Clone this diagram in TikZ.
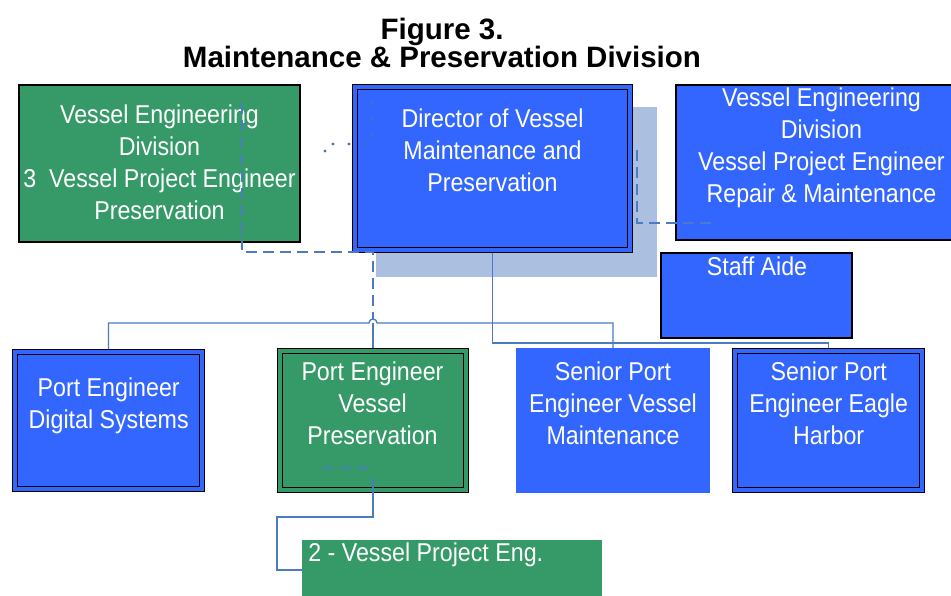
\documentclass[tikz,border=0pt]{standalone}
\usepackage{fontspec}
\setmainfont{Liberation Sans}
\newfontfamily\boxfont{Liberation Sans}[FakeStretch=0.9]
\usetikzlibrary{calc}
\definecolor{boxblue}{RGB}{51,102,255}
\definecolor{boxgreen}{RGB}{54,153,104}
\definecolor{shadowc}{RGB}{171,191,224}
\definecolor{connc}{RGB}{74,124,196}
\definecolor{dotc}{RGB}{80,112,170}
\tikzset{
  plainbox/.style={inner sep=0pt, outer sep=0pt, draw=black, line width=1.6pt},
  dblbox/.style={inner sep=0pt, outer sep=0pt, draw=black, line width=1.3pt, double distance=3.4pt},
  nobox/.style={inner sep=0pt, outer sep=0pt, draw=none},
  boxtext/.style={inner sep=0pt, outer sep=0pt, text=white, align=center, anchor=north,
    font=\boxfont\fontsize{25.8}{32}\selectfont},
  titletext/.style={inner sep=0pt, outer sep=0pt, text=black, align=center, anchor=north,
    font=\bfseries\fontsize{29.5}{28}\selectfont},
  conn/.style={draw=connc, line width=1.3pt},
  dashconn/.style={draw=connc, line width=1.3pt, dash pattern=on 11pt off 6pt},
}
\begin{document}
\begin{tikzpicture}[x=1pt,y=-1pt]
\clip (0,0) rectangle (951,596);
\fill[white] (0,0) rectangle (951,596);

% title
\node[titletext] (title) at (442,18.4) {Figure 3.\\Maintenance \& Preservation Division};

% coordinates for connectors
\coordinate (bus) at (0,323);
\coordinate (d1) at (242,103);
\coordinate (d2) at (373,252);
\coordinate (e1) at (637,150);
\coordinate (e2) at (717,223);
\coordinate (f0) at (323,468);
\coordinate (f1) at (373,478);
\coordinate (f2) at (373,468);
\coordinate (g) at (277,517);

% shadow of director box
\node[nobox, fill=shadowc, minimum width=281pt, minimum height=170pt] (dirshadow) at (516.5,192) {};

% anchor nodes for connectors
\path
  node[nobox, minimum width=275pt, minimum height=163pt] (dir) at (492.5,168.5) {}
  node[nobox, minimum width=187pt, minimum height=137pt] (dig) at (108.5,420.5) {}
  node[nobox, minimum width=186pt, minimum height=139pt] (vpres) at (373,420.5) {}
  node[nobox, minimum width=194pt, minimum height=145pt] (smaint) at (613,420.5) {}
  node[nobox, minimum width=187pt, minimum height=139pt] (eagle) at (828.5,420.5) {}
  node[nobox, minimum width=300pt, minimum height=60pt] (vpe) at (452,570) {};

% solid connectors (behind boxes)
\draw[conn] (dir.south) -- ++(0,93) -| (eagle.north);
\draw[conn] (dig.north) -- (dig.north |- bus)
  -- ($(vpres.north |- bus)+(-4,0)$) arc[start angle=180, end angle=0, radius=4pt]
  -- (smaint.north |- bus) -- (smaint.north);
\draw[conn] (vpres.north |- bus) -- (vpres.north);

% boxes
\node[plainbox, fill=boxgreen, minimum width=281.4pt, minimum height=157.4pt] (gtl) at (159.5,163.5) {};
\node[dblbox, fill=boxblue, double=boxblue, minimum width=275pt, minimum height=163pt] (dirB) at (492.5,168.5) {};
\node[plainbox, fill=boxblue, minimum width=291.4pt, minimum height=155.4pt] (rbox) at (821.5,162.5) {};
\node[plainbox, fill=boxblue, minimum width=191.4pt, minimum height=85.4pt] (staff) at (756.5,295.5) {};
\node[dblbox, fill=boxblue, double=boxblue, minimum width=187pt, minimum height=137pt] (digB) at (108.5,420.5) {};
\node[dblbox, fill=boxgreen, double=boxgreen, minimum width=186pt, minimum height=139pt] (vpresB) at (373,420.5) {};
\node[nobox, fill=boxblue, minimum width=194pt, minimum height=145pt] (smaintB) at (613,420.5) {};
\node[dblbox, fill=boxblue, double=boxblue, minimum width=187pt, minimum height=139pt] (eagleB) at (828.5,420.5) {};
\node[nobox, fill=boxgreen, minimum width=300pt, minimum height=60pt] (vpeB) at (452,570) {};

% texts
\node[boxtext] (gtlT) at (159.5,104.5) {Vessel Engineering\\Division\\3\ \ Vessel Project Engineer\\Preservation};
\node[boxtext] (dirT) at (492.5,109.2) {Director of Vessel\\Maintenance and\\Preservation};
\node[boxtext] (rboxT) at (821.5,88) {Vessel Engineering\\Division\\Vessel Project Engineer\\Repair \& Maintenance};
\node[boxtext] (staffT) at (757,257.3) {Staff Aide};
\node[boxtext] (digT) at (108.7,378.2) {Port Engineer\\Digital Systems};
\node[boxtext] (vpresT) at (372.5,361.5) {Port Engineer\\Vessel\\Preservation};
\node[boxtext] (smaintT) at (613,361.5) {Senior Port\\Engineer Vessel\\Maintenance};
\node[boxtext] (eagleT) at (828.7,361.5) {Senior Port\\Engineer Eagle\\Harbor};
\node[boxtext, anchor=north west] (vpeT) at (308.3,543.2) {2 - Vessel Project Eng.};

% dashed and overlaid connectors
\draw[dashconn] (d1) |- (d2) -- ($(vpres.north |- bus)+(0,-4)$);
\draw[dashconn] (e1) |- (e2);
\draw[dashconn] (f0) -- (f2);
\draw[conn] (f1) |- (g) |- (vpe.west);

% dotted remnants
\foreach \p in {(325,151),(333,144),(349,144),(365,144),(372,103),(372,119),(372,135)}
  \fill[dotc] \p circle[radius=1.6pt];
\end{tikzpicture}
\end{document}
